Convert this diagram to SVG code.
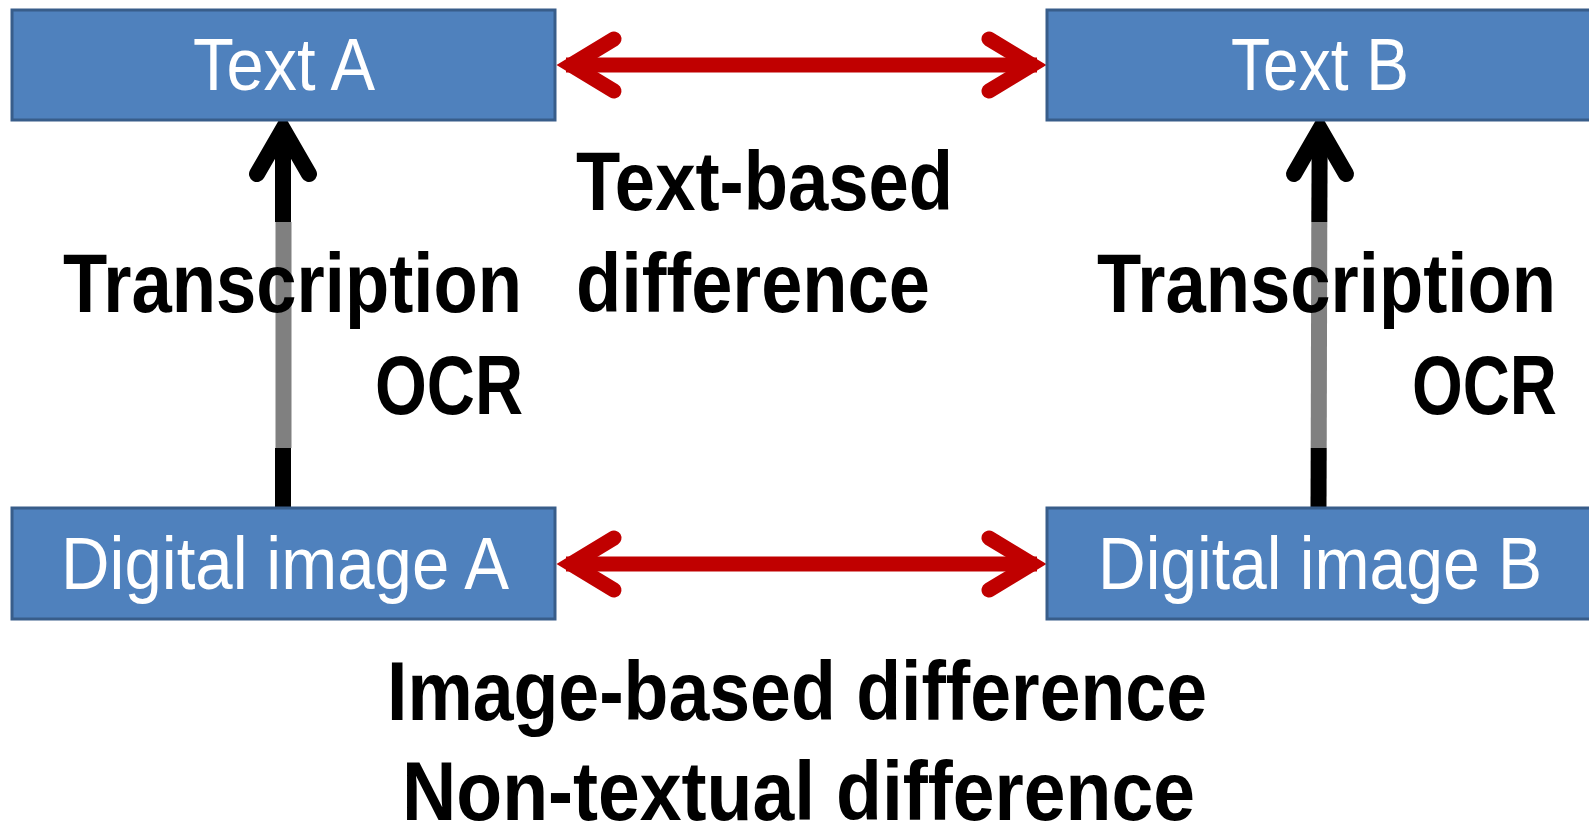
<svg xmlns="http://www.w3.org/2000/svg" width="1589" height="825" viewBox="0 0 1589 825">
<style>
.box{fill:#4F81BD;stroke:#385D8A;stroke-width:3}
.wt{font-family:"Liberation Sans",Arial,sans-serif;font-size:74px;fill:#FFFFFF}
.bt{font-family:"Liberation Sans",Arial,sans-serif;font-size:84px;font-weight:bold;fill:#000000}
.red{stroke:#C00000;stroke-width:15;fill:none}
.redhead{stroke:#C00000;stroke-width:15;fill:none;stroke-linecap:round;stroke-linejoin:miter;stroke-miterlimit:10}
.blk{stroke:#000000;stroke-width:16;fill:none}
.gry{stroke:#808080;stroke-width:16;fill:none}
.blkhead{stroke:#000000;stroke-width:16;fill:none;stroke-linecap:round;stroke-linejoin:miter;stroke-miterlimit:10}
</style>
<rect width="1589" height="825" fill="#FFFFFF"/>
<g id="connectors">
  <!-- top red double arrow -->
  <line class="red" x1="566" y1="65" x2="1037" y2="65"/>
  <polyline class="redhead" points="614,39 571,65 614,91"/>
  <polyline class="redhead" points="989,39 1032,65 989,91"/>
  <!-- bottom red double arrow -->
  <line class="red" x1="566" y1="564" x2="1037" y2="564"/>
  <polyline class="redhead" points="614,538 571,564 614,590"/>
  <polyline class="redhead" points="989,538 1032,564 989,590"/>
  <!-- left vertical arrow -->
  <line class="blk" x1="283" y1="507" x2="283" y2="448"/>
  <line class="gry" x1="283.5" y1="448" x2="283.5" y2="222"/>
  <line class="blk" x1="283" y1="222" x2="283" y2="132"/>
  <polyline class="blkhead" points="257,174 283,129 309,174"/>
  <!-- right vertical arrow -->
  <line class="blk" x1="1318.5" y1="507" x2="1318.7" y2="448"/>
  <line class="gry" x1="1318.7" y1="448" x2="1319.3" y2="222"/>
  <line class="blk" x1="1319.3" y1="222" x2="1319.7" y2="132"/>
  <polyline class="blkhead" points="1294,174 1320,129 1346,174"/>
</g>
<g id="textA">
  <rect class="box" x="12" y="10" width="543" height="110"/>
  <text class="wt" x="193" y="90" textLength="182" lengthAdjust="spacingAndGlyphs">Text A</text>
</g>
<g id="textB">
  <rect class="box" x="1047" y="10" width="545" height="110"/>
  <text class="wt" x="1231" y="90" textLength="178" lengthAdjust="spacingAndGlyphs">Text B</text>
</g>
<g id="imageA">
  <rect class="box" x="12" y="508" width="543" height="111"/>
  <text class="wt" x="61" y="589" textLength="448" lengthAdjust="spacingAndGlyphs">Digital image A</text>
</g>
<g id="imageB">
  <rect class="box" x="1047" y="508" width="545" height="111"/>
  <text class="wt" x="1098" y="589" textLength="444" lengthAdjust="spacingAndGlyphs">Digital image B</text>
</g>
<g id="labels">
  <text class="bt" x="576" y="210" textLength="377" lengthAdjust="spacingAndGlyphs">Text-based</text>
  <text class="bt" x="576" y="312" textLength="354" lengthAdjust="spacingAndGlyphs">difference</text>
  <text class="bt" x="63" y="312" textLength="459" lengthAdjust="spacingAndGlyphs">Transcription</text>
  <text class="bt" x="375" y="414" textLength="148" lengthAdjust="spacingAndGlyphs">OCR</text>
  <text class="bt" x="1097" y="312" textLength="459" lengthAdjust="spacingAndGlyphs">Transcription</text>
  <text class="bt" x="1412" y="414" textLength="145" lengthAdjust="spacingAndGlyphs">OCR</text>
  <text class="bt" x="387" y="720" textLength="820" lengthAdjust="spacingAndGlyphs">Image-based difference</text>
  <text class="bt" x="402" y="820" textLength="793" lengthAdjust="spacingAndGlyphs">Non-textual difference</text>
</g>
</svg>
